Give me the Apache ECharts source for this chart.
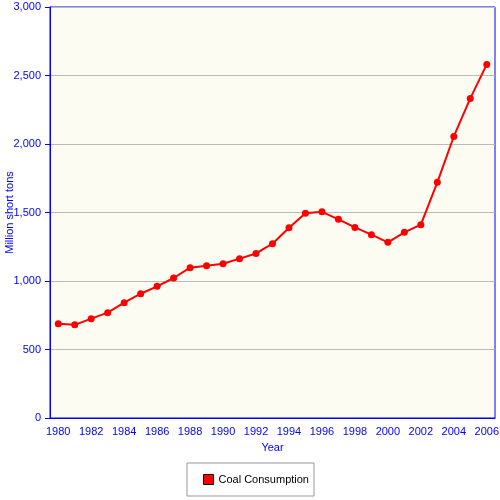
<!DOCTYPE html>
<html>
<head>
<meta charset="utf-8">
<script src="https://cdn.jsdelivr.net/npm/echarts@6/dist/echarts.min.js"></script>
<style>
  html, body { margin: 0; padding: 0; background: #fff; }
  #chart { width: 500px; height: 500px; }
</style>
</head>
<body>
<div id="chart"></div>
<script>
// years along the bottom axis
const years = ['1980', '1981', '1982', '1983', '1984', '1985', '1986', '1987', '1988',
  '1989', '1990', '1991', '1992', '1993', '1994', '1995', '1996', '1997', '1998',
  '1999', '2000', '2001', '2002', '2003', '2004', '2005', '2006'];

// coal consumption, million short tons
const coalConsumption = [688, 680, 725, 769, 842, 907, 961, 1022, 1097,
  1111, 1126, 1163, 1201, 1272, 1389, 1494, 1505, 1450, 1391,
  1338, 1282, 1355, 1411, 1720, 2055, 2333, 2581];

const blue = '#0000FF';
const font = 'Liberation Sans';

const myChart = echarts.init(document.getElementById('chart'));

const option = {
  backgroundColor: '#fff',
  animation: false,
  grid: {
    left: 50,
    right: 5,
    top: 7,
    bottom: 82,
    outerBoundsMode: 'none',
    containLabel: false,
    show: true,
    backgroundColor: '#FCFCF3',
    borderColor: blue,
    borderWidth: 1
  },
  legend: {
    left: 187,
    top: 463,
    padding: [11, 5, 11, 16],
    borderColor: '#999',
    borderWidth: 1,
    itemWidth: 10,
    itemHeight: 10,
    icon: 'rect',
    textStyle: { color: '#000', fontFamily: font, fontSize: 11 },
    data: [{ name: 'Coal Consumption', itemStyle: { color: '#FF0000', borderColor: '#000', borderWidth: 1 } }]
  },
  xAxis: {
    type: 'category',
    data: years,
    boundaryGap: true,
    name: 'Year',
    nameLocation: 'middle',
    nameGap: 24,
    nameMoveOverlap: false,
    nameTextStyle: { color: blue, fontFamily: font, fontSize: 11 },
    axisLine: { lineStyle: { color: blue, width: 1 } },
    axisTick: { alignWithLabel: true, interval: 1, length: 5, lineStyle: { color: blue } },
    axisLabel: { interval: 1, color: blue, fontFamily: font, fontSize: 11, margin: 8 },
    splitLine: { show: false }
  },
  yAxis: {
    type: 'value',
    min: 0,
    max: 3000,
    interval: 500,
    name: 'Million short tons',
    nameLocation: 'middle',
    nameGap: 35,
    nameRotate: 90,
    nameMoveOverlap: false,
    nameTextStyle: { color: blue, fontFamily: font, fontSize: 11 },
    axisLine: { show: true, lineStyle: { color: blue, width: 1 } },
    axisTick: { show: true, length: 5, lineStyle: { color: blue } },
    axisLabel: {
      color: blue,
      fontFamily: font,
      fontSize: 11,
      margin: 9,
      formatter: v => v.toLocaleString('en-US')
    },
    splitLine: { lineStyle: { color: '#BBBBBB', width: 1 } }
  },
  series: [{
    name: 'Coal Consumption',
    type: 'line',
    data: coalConsumption,
    symbol: 'circle',
    symbolSize: 7,
    lineStyle: { color: '#FF0000', width: 2 },
    itemStyle: { color: '#FF0000' }
  }]
};

myChart.setOption(option);
</script>
</body>
</html>
